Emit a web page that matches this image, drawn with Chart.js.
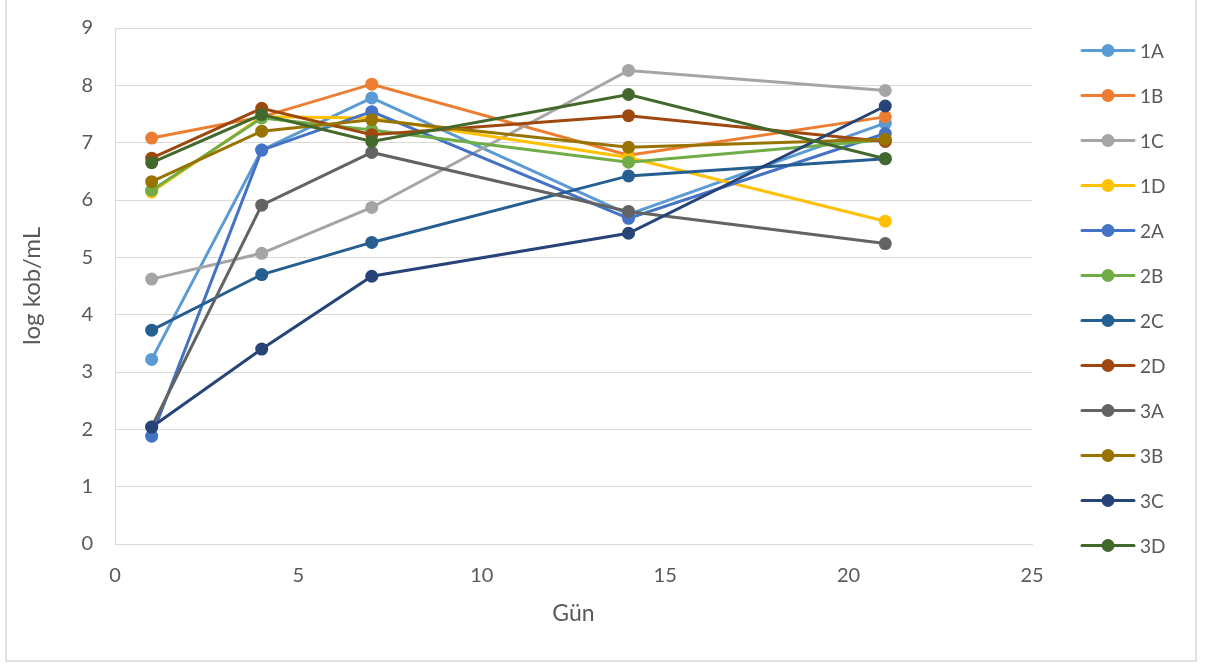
<!DOCTYPE html>
<html>
<head>
<meta charset="utf-8">
<script src="https://cdn.jsdelivr.net/npm/chart.js@4.4.1/dist/chart.umd.min.js"></script>
<style>
  html, body { margin: 0; padding: 0; background: #ffffff; }
  #wrap { width: 1211px; height: 664px; position: relative; }
</style>
</head>
<body>
<div id="wrap"><canvas id="chart" width="1211" height="664"></canvas></div>
<script>
// Sampling days
const days = [1, 4, 7, 14, 21];

// log kob/mL per sample
const s1A = [3.22, 6.87, 7.78, 5.75, 7.34];
const s1B = [7.08, 7.45, 8.02, 6.78, 7.45];
const s1C = [4.62, 5.07, 5.87, 8.26, 7.91];
const s1D = [6.14, 7.45, 7.43, 6.74, 5.63];
const s2A = [1.88, 6.87, 7.54, 5.68, 7.16];
const s2B = [6.17, 7.43, 7.22, 6.66, 7.05];
const s2C = [3.73, 4.70, 5.26, 6.42, 6.72];
const s2D = [6.73, 7.60, 7.14, 7.47, 7.02];
const s3A = [2.04, 5.91, 6.83, 5.80, 5.24];
const s3B = [6.32, 7.20, 7.40, 6.92, 7.06];
const s3C = [2.04, 3.40, 4.67, 5.42, 7.64];
const s3D = [6.65, 7.49, 7.02, 7.84, 6.72];

const seriesNames = ['1A', '1B', '1C', '1D', '2A', '2B', '2C', '2D', '3A', '3B', '3C', '3D'];
const seriesValues = [s1A, s1B, s1C, s1D, s2A, s2B, s2C, s2D, s3A, s3B, s3C, s3D];
const seriesColors = ['#5B9BD5', '#ED7D31', '#A5A5A5', '#FFC000', '#4472C4', '#70AD47',
                      '#255E91', '#9E480E', '#636363', '#997300', '#264478', '#43682B'];

// Axis ranges and titles
const xTicks = { min: 0, max: 25, step: 5 };
const yTicks = { min: 0, max: 9, step: 1 };
const xTitle = 'Gün';
const yTitle = 'log kob/mL';

const FONT = 'Lato, "Open Sans", sans-serif';
const TEXT = '#595959';
const GRID = '#D9D9D9';

const datasets = seriesNames.map((name, i) => ({
  label: name,
  data: days.map((d, k) => ({ x: d, y: seriesValues[i][k] })),
  borderColor: seriesColors[i],
  backgroundColor: seriesColors[i],
  pointBackgroundColor: seriesColors[i],
  pointBorderColor: seriesColors[i],
  borderWidth: 3,
  pointRadius: 6.5,
  pointBorderWidth: 0,
  pointHoverRadius: 6.5,
  tension: 0,
  // later series sit on top of earlier ones
  order: seriesNames.length - i
}));

// Right-hand legend: line with a round marker, then the series name
const sideLegend = {
  id: 'sideLegend',
  afterDraw(chart) {
    const ctx = chart.ctx;
    ctx.save();
    chart.data.datasets.forEach((ds, i) => {
      const y = 50.5 + i * 45;
      ctx.strokeStyle = ds.borderColor;
      ctx.lineWidth = 3;
      ctx.lineCap = 'round';
      ctx.beginPath();
      ctx.moveTo(1082, y);
      ctx.lineTo(1134, y);
      ctx.stroke();
      ctx.fillStyle = ds.borderColor;
      ctx.beginPath();
      ctx.arc(1108, y, 6.5, 0, Math.PI * 2);
      ctx.fill();
      ctx.fillStyle = TEXT;
      ctx.font = '19px ' + FONT;
      ctx.textAlign = 'left';
      ctx.textBaseline = 'middle';
      ctx.fillText(ds.label, 1140, y + 1);
    });
    ctx.restore();
  }
};

// Light frame around the whole chart
const frame = {
  id: 'frame',
  beforeDraw(chart) {
    const ctx = chart.ctx;
    ctx.save();
    ctx.fillStyle = '#ffffff';
    ctx.fillRect(0, 0, chart.width, chart.height);
    ctx.strokeStyle = GRID;
    ctx.lineWidth = 1.5;
    ctx.strokeRect(6, -4, 1190, 665);
    ctx.restore();
  }
};

new Chart(document.getElementById('chart'), {
  type: 'line',
  data: { datasets },
  options: {
    responsive: false,
    animation: false,
    events: [],
    layout: { padding: { left: 10, top: 28, right: 179, bottom: 10 } },
    plugins: { legend: { display: false }, tooltip: { enabled: false } },
    scales: {
      x: {
        type: 'linear',
        min: xTicks.min, max: xTicks.max,
        afterFit(scale) { scale.height = 110; scale.paddingLeft = 0; scale.paddingRight = 0; },
        ticks: { stepSize: xTicks.step, color: TEXT, font: { family: FONT, size: 20 }, padding: 20 },
        grid: { display: false, drawTicks: false },
        border: { display: true, color: GRID, width: 1 },
        title: { display: true, text: xTitle, color: TEXT, font: { family: FONT, size: 23 }, padding: { bottom: 27 } }
      },
      y: {
        min: yTicks.min, max: yTicks.max,
        afterFit(scale) { scale.width = 105; scale.paddingTop = 0; scale.paddingBottom = 0; },
        ticks: { stepSize: yTicks.step, color: TEXT, font: { family: FONT, size: 20 }, padding: 22 },
        grid: { color: GRID, lineWidth: 1, drawTicks: false },
        border: { display: true, color: GRID, width: 1 },
        title: { display: true, text: yTitle, color: TEXT, font: { family: FONT, size: 24 }, padding: { top: 8 } }
      }
    }
  },
  plugins: [frame, sideLegend]
});
</script>
</body>
</html>
